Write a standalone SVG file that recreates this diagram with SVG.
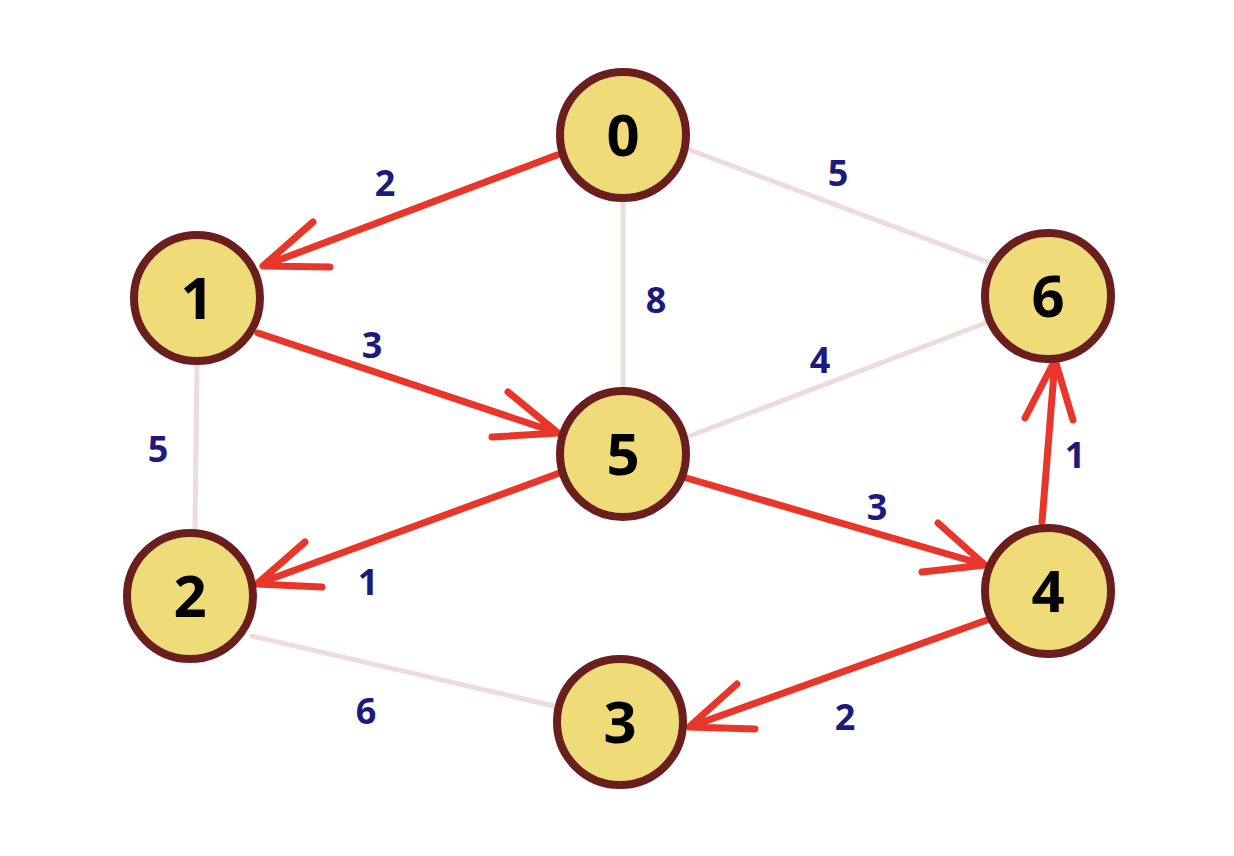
<svg xmlns="http://www.w3.org/2000/svg" width="1234" height="856" viewBox="0 0 1234 856">
<style>
.bg{fill:#ffffff}
.gray{stroke:#ecdcdc;stroke-width:5;fill:none;stroke-linecap:round}
.red{stroke:#e8372a;stroke-width:7;fill:none;stroke-linecap:round;stroke-linejoin:round}
.node circle{fill:#efdc78;stroke:#6b1e1e;stroke-width:8}
.node text{font-family:"Noto Sans","DejaVu Sans",sans-serif;font-weight:bold;font-size:58px;fill:#000;text-anchor:middle}
.w{font-family:"Noto Sans","DejaVu Sans",sans-serif;font-weight:bold;font-size:36px;fill:#1c1a7c;text-anchor:middle}
</style>
<rect class="bg" x="0" y="0" width="1234" height="856"/>
<g id="connectors">
<line class="gray" x1="623" y1="200" x2="623" y2="388"/>
<line class="gray" x1="690" y1="150" x2="988" y2="262"/>
<line class="gray" x1="690" y1="436" x2="988" y2="322"/>
<line class="gray" x1="197" y1="364" x2="195" y2="530"/>
<line class="gray" x1="252" y1="636" x2="554" y2="706"/>
<path class="red" d="M557,155 L263,266 M313,222 L263,266 L330,267"/>
<path class="red" d="M258,333 L558,433 M508,392 L558,433 L492,437"/>
<path class="red" d="M565,471 L257,584 M305,542 L257,584 L322,587"/>
<path class="red" d="M683,477 L985,565 M938,523 L985,565 L922,572"/>
<path class="red" d="M1042,522 L1055,360 M1025,418 L1055,360 L1073,420"/>
<path class="red" d="M987,620 L689,727 M737,684 L689,727 L755,729"/>
</g>
<g id="weights">
<text class="w" x="385" y="196">2</text>
<text class="w" x="838" y="186">5</text>
<text class="w" x="656" y="313">8</text>
<text class="w" x="372" y="358">3</text>
<text class="w" x="820" y="373">4</text>
<text class="w" x="158" y="462">5</text>
<text class="w" x="1075" y="468">1</text>
<text class="w" x="877" y="520">3</text>
<text class="w" x="368" y="595">1</text>
<text class="w" x="366" y="724">6</text>
<text class="w" x="845" y="730">2</text>
</g>
<g id="node0" class="node"><circle cx="623" cy="135" r="63"/><text x="623" y="156">0</text></g>
<g id="node1" class="node"><circle cx="197" cy="298" r="63"/><text x="197" y="319">1</text></g>
<g id="node6" class="node"><circle cx="1048" cy="296" r="63"/><text x="1048" y="317">6</text></g>
<g id="node5" class="node"><circle cx="623" cy="454" r="63"/><text x="623" y="475">5</text></g>
<g id="node2" class="node"><circle cx="190" cy="596" r="63"/><text x="190" y="617">2</text></g>
<g id="node4" class="node"><circle cx="1048" cy="591" r="63"/><text x="1048" y="612">4</text></g>
<g id="node3" class="node"><circle cx="620" cy="722" r="63"/><text x="620" y="743">3</text></g>
</svg>
